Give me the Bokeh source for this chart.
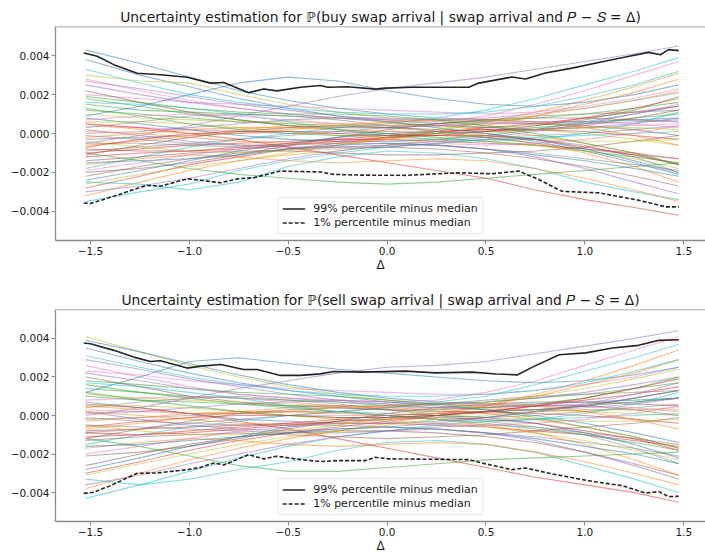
from bokeh.plotting import figure
from bokeh.models import Range1d, FixedTicker, CustomJSTickFormatter, Span
from bokeh.layouts import column
from bokeh.embed import file_html
from bokeh.resources import INLINE

# ---------------- data (values in units of 1e-3) ----------------
SCALE = 1e-3
X_TICKS = [-1.5, -1.0, -0.5, 0.0, 0.5, 1.0, 1.5]
Y_TICKS = [-0.004, -0.002, 0.0, 0.002, 0.004]

TITLE_BUY = "Uncertainty estimation for \u2119(buy swap arrival | swap arrival and \U0001D443 \u2212 \U0001D446 = \u0394)"
TITLE_SELL = "Uncertainty estimation for \u2119(sell swap arrival | swap arrival and \U0001D443 \u2212 \U0001D446 = \u0394)"
LABEL_HI = "99% percentile minus median"
LABEL_LO = "1% percentile minus median"
X_LABEL = "\u0394"

# grid of delta values for the individual bootstrap curves
DELTA = [-1.525, -1.25, -1.0, -0.75, -0.5, -0.25, 0.0, 0.25, 0.5, 0.75, 1.0, 1.25, 1.475]

# --- buy panel ---
BUY_HI_X = [-1.534, -1.466, -1.382, -1.264, -1.146, -1.011, -0.893, -0.826, -0.70, -0.624,
            -0.557, -0.438, -0.337, -0.30, -0.2, -0.06, -0.01, 0.126, 0.413, 0.463,
            0.631, 0.70, 0.80, 0.935, 1.07, 1.205, 1.323, 1.382, 1.424, 1.475]
BUY_HI_V = [4.14, 3.97, 3.54, 3.10, 3.02, 2.89, 2.59, 2.62, 2.10, 2.29,
            2.19, 2.38, 2.47, 2.38, 2.40, 2.28, 2.33, 2.38, 2.38, 2.59,
            2.90, 2.80, 3.11, 3.36, 3.65, 3.93, 4.17, 4.05, 4.31, 4.26]
BUY_LO_X = [-1.534, -1.5, -1.382, -1.281, -1.214, -1.146, -1.011, -0.943, -0.842, -0.758,
            -0.674, -0.54, -0.337, -0.27, -0.135, 0.093, 0.362, 0.53, 0.665, 0.766,
            0.884, 1.07, 1.272, 1.41, 1.475]
BUY_LO_V = [-3.57, -3.60, -3.22, -2.88, -2.67, -2.71, -2.33, -2.40, -2.53, -2.33,
            -2.27, -1.93, -1.98, -2.10, -2.14, -2.15, -2.02, -2.07, -1.93, -2.36,
            -2.97, -3.05, -3.43, -3.77, -3.77]
BUY_CURVES = [
    [3.8, 3.0, 2.4, 1.8, 1.3, 0.9, 0.6, 0.3, 0.0, -0.4, -0.9, -1.5, -2.1],
    [-3.2, -2.5, -1.9, -1.4, -1.0, -0.6, -0.3, 0.1, 0.6, 1.1, 1.7, 2.4, 3.1],
    [1.2, 1.0, 0.8, 0.6, 0.5, 0.4, 0.4, 0.5, 0.6, 0.8, 1.0, 1.3, 1.6],
    [-1.0, -0.8, -0.6, -0.5, -0.4, -0.3, -0.3, -0.4, -0.5, -0.6, -0.8, -1.0, -1.3],
    [2.5, 2.0, 1.6, 1.3, 1.0, 0.8, 0.7, 0.7, 0.8, 1.0, 1.3, 1.7, 2.1],
    [-2.2, -1.7, -1.3, -1.0, -0.8, -0.7, -0.7, -0.8, -1.0, -1.3, -1.7, -2.2, -2.7],
    [0.4, 0.3, 0.2, 0.1, 0.0, 0.0, 0.1, 0.1, 0.2, 0.2, 0.3, 0.4, 0.5],
    [-0.3, -0.2, -0.1, 0.0, 0.1, 0.1, 0.0, -0.1, -0.2, -0.1, 0.0, 0.2, 0.4],
    [3.0, 2.7, 2.6, 2.0, 1.5, 1.1, 0.8, 0.6, 0.4, 0.2, 0.0, -0.3, -0.6],
    [-1.8, -1.2, -0.7, -0.3, 0.0, 0.3, 0.5, 0.8, 1.2, 1.8, 2.5, 3.2, 3.9],
    [0.8, 0.5, 0.2, -0.1, -0.3, -0.4, -0.4, -0.3, -0.1, 0.2, 0.6, 1.0, 1.4],
    [-0.6, -0.4, -0.1, 0.2, 0.4, 0.5, 0.5, 0.4, 0.2, -0.1, -0.5, -1.0, -1.6],
    [1.8, 1.4, 1.0, 0.7, 0.4, 0.2, 0.0, -0.2, -0.4, -0.6, -0.9, -1.2, -1.5],
    [-2.8, -2.2, -1.6, -1.2, -0.8, -0.5, -0.2, 0.0, 0.3, 0.5, 0.8, 1.1, 1.4],
    [0.0, 0.1, 0.3, 0.5, 0.7, 0.8, 0.8, 0.7, 0.6, 0.5, 0.5, 0.6, 0.7],
    [-1.4, -1.2, -1.0, -0.9, -0.9, -1.0, -1.1, -1.1, -1.0, -0.9, -0.7, -0.4, -0.1],
    [2.0, 1.8, 1.6, 1.5, 1.4, 1.3, 1.2, 1.1, 1.0, 1.1, 1.4, 1.8, 2.3],
    [-0.9, -0.7, -0.5, -0.3, -0.1, 0.1, 0.3, 0.5, 0.7, 0.9, 1.0, 1.1, 1.2],
    [0.6, 0.6, 0.5, 0.3, 0.1, -0.1, -0.2, -0.3, -0.4, -0.6, -0.9, -1.3, -1.8],
    [-3.5, -3.0, -2.6, -1.9, -1.4, -1.0, -0.7, -0.5, -0.3, -0.2, -0.1, 0.0, 0.1],
    [4.3, 3.6, 2.9, 2.2, 1.7, 1.3, 1.0, 0.8, 0.7, 0.6, 0.6, 0.7, 0.8],
    [-0.2, 0.0, 0.2, 0.3, 0.3, 0.2, 0.1, 0.0, -0.2, -0.5, -1.0, -1.7, -2.5],
    [1.5, 1.2, 1.1, 1.0, 0.9, 0.8, 0.6, 0.4, 0.3, 0.4, 0.7, 1.2, 1.9],
    [-1.2, -1.0, -0.9, -0.7, -0.5, -0.3, -0.1, 0.1, 0.2, 0.2, 0.1, -0.1, -0.3],
    [0.2, -0.1, -0.4, -0.6, -0.7, -0.7, -0.6, -0.4, -0.2, 0.1, 0.5, 1.0, 1.5],
    [-2.0, -1.8, -1.5, -1.1, -0.6, -0.2, 0.2, 0.5, 0.7, 0.8, 0.8, 0.7, 0.6],
    [2.8, 2.2, 1.7, 1.3, 1.0, 0.8, 0.6, 0.6, 0.9, 1.5, 2.2, 3.0, 3.7],
    [-0.5, -0.5, -0.6, -0.7, -0.8, -0.8, -0.7, -0.5, -0.3, -0.3, -0.6, -1.2, -2.0],
    [1.0, 0.8, 0.7, 0.6, 0.6, 0.5, 0.3, 0.1, -0.1, -0.3, -0.4, -0.4, -0.3],
    [-2.5, -2.6, -2.9, -2.5, -1.7, -1.2, -0.9, -1.0, -1.3, -1.8, -2.5, -3.0, -3.4],
    [0.9, 1.4, 2.0, 2.6, 2.9, 2.7, 2.2, 1.8, 1.5, 1.4, 1.6, 2.0, 2.5],
    [-1.6, -1.3, -1.1, -1.2, -1.4, -1.5, -1.4, -1.3, -1.4, -1.8, -2.3, -2.9, -3.5],
    [-1.0, -1.4, -1.8, -2.1, -2.3, -2.5, -2.6, -2.5, -2.3, -2.1, -1.9, -1.7, -1.5],
    [0.5, 0.3, 0.0, -0.3, -0.7, -1.1, -1.5, -1.9, -2.3, -2.9, -3.4, -3.8, -4.2],
    [-0.5, -0.1, 0.4, 0.9, 1.4, 1.9, 2.3, 2.6, 2.9, 3.3, 3.7, 4.1, 4.5],
    [2.2, 1.6, 1.1, 0.7, 0.4, 0.3, 0.3, 0.4, 0.5, 0.5, 0.4, 0.2, -0.1],
    [-1.9, -1.5, -1.1, -0.8, -0.5, -0.4, -0.4, -0.5, -0.6, -0.5, -0.3, 0.0, 0.4],
    [0.3, 0.6, 0.9, 1.0, 0.9, 0.7, 0.4, 0.1, -0.2, -0.5, -0.8, -1.1, -1.3],
    [-0.4, -0.7, -0.9, -1.0, -0.9, -0.6, -0.2, 0.2, 0.6, 0.9, 1.3, 1.7, 2.2],
    [1.6, 1.5, 1.3, 1.0, 0.6, 0.2, -0.1, -0.3, -0.4, -0.3, 0.0, 0.5, 1.1],
    [-2.4, -1.9, -1.4, -0.9, -0.5, -0.2, 0.0, 0.1, 0.0, -0.3, -0.8, -1.4, -2.0],
    [0.1, 0.0, -0.2, -0.4, -0.5, -0.5, -0.3, 0.0, 0.4, 0.9, 1.5, 2.1, 2.8],
    [1.3, 0.9, 0.5, 0.2, 0.0, -0.1, -0.1, 0.0, 0.1, 0.3, 0.5, 0.8, 1.0],
    [-0.8, -0.9, -0.9, -0.8, -0.6, -0.4, -0.2, -0.1, -0.1, -0.3, -0.7, -1.1, -1.6],
    [2.7, 2.3, 1.9, 1.5, 1.2, 0.9, 0.7, 0.5, 0.3, 0.2, 0.3, 0.5, 0.8],
    [-1.1, -0.6, -0.2, 0.1, 0.3, 0.4, 0.3, 0.2, 0.1, 0.2, 0.4, 0.8, 1.2],
    [0.7, 0.9, 1.0, 0.9, 0.7, 0.5, 0.4, 0.4, 0.5, 0.6, 0.6, 0.5, 0.3],
    [-0.1, -0.3, -0.5, -0.6, -0.6, -0.5, -0.5, -0.6, -0.8, -1.0, -1.3, -1.6, -1.9],
    [-2.6, -2.1, -1.7, -1.4, -1.1, -0.9, -0.6, -0.3, 0.0, 0.2, 0.3, 0.3, 0.2],
    [3.3, 2.6, 2.0, 1.6, 1.3, 1.1, 1.0, 1.0, 1.1, 1.4, 1.9, 2.5, 3.2],
    [-1.5, -1.4, -1.3, -1.1, -0.8, -0.6, -0.5, -0.6, -0.8, -1.1, -1.4, -1.8, -2.2],
    [0.5, 0.2, 0.0, 0.0, 0.2, 0.4, 0.6, 0.7, 0.7, 0.6, 0.3, -0.1, -0.6],
    [1.9, 1.6, 1.3, 1.1, 1.0, 1.0, 0.9, 0.7, 0.4, 0.0, -0.5, -1.0, -1.6],
    [-0.7, -0.3, 0.0, 0.1, 0.1, 0.0, -0.1, -0.1, 0.1, 0.4, 0.8, 1.3, 1.8],
    [-3.0, -2.7, -2.3, -1.8, -1.3, -0.9, -0.6, -0.6, -0.8, -1.2, -1.8, -2.5, -3.1],
]

# --- sell panel ---
SELL_HI_X = [-1.534, -1.5, -1.382, -1.281, -1.197, -1.146, -1.011, -0.943, -0.842, -0.725,
             -0.657, -0.54, -0.438, -0.337, -0.27, -0.135, 0.093, 0.245, 0.43, 0.55,
             0.66, 0.735, 0.87, 1.004, 1.139, 1.272, 1.374, 1.475]
SELL_HI_V = [3.76, 3.72, 3.38, 3.03, 2.80, 2.84, 2.46, 2.56, 2.65, 2.39,
             2.39, 2.08, 2.08, 2.16, 2.28, 2.25, 2.30, 2.21, 2.25, 2.15,
             2.11, 2.51, 3.15, 3.25, 3.50, 3.64, 3.90, 3.93]
SELL_LO_X = [-1.534, -1.483, -1.399, -1.264, -1.163, -1.011, -0.943, -0.876, -0.826, -0.70,
             -0.624, -0.557, -0.438, -0.337, -0.253, -0.11, -0.06, 0.008, 0.413, 0.498,
             0.631, 0.70, 0.834, 0.969, 1.07, 1.188, 1.306, 1.374, 1.424, 1.475]
SELL_LO_V = [-4.04, -3.98, -3.64, -3.00, -2.98, -2.81, -2.69, -2.46, -2.57, -2.03,
             -2.25, -2.11, -2.29, -2.39, -2.34, -2.34, -2.17, -2.25, -2.29, -2.51,
             -2.81, -2.72, -3.03, -3.29, -3.47, -3.64, -4.02, -3.95, -4.21, -4.19]
SELL_CURVES = [
    [3.5, 2.8, 2.2, 1.7, 1.3, 1.0, 0.7, 0.5, 0.3, 0.0, -0.4, -0.9, -1.4],
    [-3.8, -3.0, -2.3, -1.7, -1.2, -0.8, -0.4, 0.0, 0.5, 1.1, 1.8, 2.6, 3.4],
    [1.0, 0.8, 0.7, 0.6, 0.5, 0.5, 0.5, 0.6, 0.7, 0.9, 1.1, 1.4, 1.7],
    [-0.8, -0.7, -0.6, -0.5, -0.4, -0.4, -0.4, -0.5, -0.6, -0.8, -1.0, -1.3, -1.6],
    [2.2, 1.8, 1.4, 1.1, 0.9, 0.7, 0.6, 0.6, 0.7, 0.9, 1.2, 1.6, 2.0],
    [-2.6, -2.0, -1.5, -1.1, -0.9, -0.8, -0.8, -0.9, -1.1, -1.4, -1.9, -2.5, -3.1],
    [0.3, 0.2, 0.1, 0.1, 0.0, 0.0, 0.0, 0.1, 0.1, 0.2, 0.3, 0.3, 0.4],
    [-0.2, -0.1, 0.0, 0.1, 0.2, 0.2, 0.1, 0.0, -0.1, 0.0, 0.2, 0.4, 0.6],
    [4.1, 3.3, 2.6, 2.0, 1.5, 1.1, 0.8, 0.6, 0.4, 0.3, 0.2, 0.1, 0.0],
    [-1.5, -1.0, -0.6, -0.3, 0.0, 0.2, 0.4, 0.7, 1.0, 1.6, 2.3, 3.0, 3.7],
    [0.7, 0.4, 0.1, -0.2, -0.3, -0.4, -0.4, -0.3, -0.1, 0.2, 0.5, 0.9, 1.3],
    [-0.7, -0.4, -0.1, 0.2, 0.4, 0.5, 0.4, 0.3, 0.1, -0.2, -0.6, -1.1, -1.7],
    [1.6, 1.2, 0.9, 0.6, 0.4, 0.2, 0.0, -0.2, -0.4, -0.7, -1.0, -1.4, -1.8],
    [-3.0, -2.4, -1.8, -1.3, -0.9, -0.6, -0.3, 0.0, 0.2, 0.5, 0.8, 1.1, 1.5],
    [0.1, 0.2, 0.4, 0.6, 0.7, 0.8, 0.7, 0.6, 0.5, 0.5, 0.6, 0.7, 0.9],
    [-1.3, -1.1, -1.0, -0.9, -1.0, -1.1, -1.2, -1.1, -1.0, -0.8, -0.6, -0.4, -0.1],
    [2.3, 2.1, 1.8, 1.6, 1.4, 1.3, 1.2, 1.1, 1.1, 1.3, 1.6, 2.0, 2.5],
    [-0.9, -0.7, -0.4, -0.2, 0.0, 0.2, 0.4, 0.6, 0.8, 1.0, 1.1, 1.2, 1.3],
    [0.5, 0.5, 0.4, 0.2, 0.0, -0.2, -0.3, -0.4, -0.6, -0.9, -1.3, -1.8, -2.3],
    [-4.3, -3.6, -2.9, -2.2, -1.6, -1.1, -0.8, -0.5, -0.3, -0.2, -0.1, 0.0, 0.1],
    [3.9, 3.3, 2.7, 2.1, 1.6, 1.2, 0.9, 0.7, 0.6, 0.6, 0.7, 0.8, 0.9],
    [-0.3, -0.1, 0.1, 0.2, 0.2, 0.1, 0.0, -0.2, -0.5, -0.9, -1.5, -2.3, -3.1],
    [1.4, 1.2, 1.0, 0.9, 0.8, 0.7, 0.5, 0.4, 0.4, 0.6, 0.9, 1.4, 2.0],
    [-1.1, -1.0, -0.8, -0.6, -0.4, -0.2, 0.0, 0.1, 0.2, 0.1, 0.0, -0.2, -0.4],
    [0.2, -0.2, -0.5, -0.7, -0.8, -0.7, -0.6, -0.4, -0.1, 0.2, 0.6, 1.1, 1.7],
    [-2.1, -1.9, -1.6, -1.2, -0.7, -0.3, 0.1, 0.4, 0.6, 0.7, 0.7, 0.6, 0.5],
    [2.6, 2.0, 1.5, 1.1, 0.9, 0.8, 0.7, 0.8, 1.2, 1.8, 2.6, 3.4, 4.1],
    [-0.5, -0.6, -0.7, -0.8, -0.9, -0.9, -0.8, -0.6, -0.5, -0.6, -1.0, -1.7, -2.5],
    [1.1, 0.9, 0.8, 0.7, 0.6, 0.5, 0.3, 0.1, -0.1, -0.2, -0.3, -0.3, -0.2],
    [-3.3, -3.6, -3.3, -2.8, -2.4, -1.8, -1.4, -1.3, -1.5, -1.9, -2.6, -3.3, -4.0],
    [1.2, 2.0, 2.8, 3.0, 2.7, 2.4, 2.2, 2.0, 1.8, 1.7, 1.8, 2.1, 2.5],
    [-1.7, -1.4, -1.2, -1.3, -1.5, -1.6, -1.5, -1.4, -1.5, -1.9, -2.4, -3.0, -3.6],
    [-1.2, -1.6, -2.1, -2.6, -2.9, -2.9, -2.7, -2.5, -2.3, -2.2, -2.1, -2.0, -1.9],
    [0.6, 0.4, 0.1, -0.3, -0.7, -1.2, -1.7, -2.2, -2.7, -3.2, -3.6, -4.0, -4.5],
    [0.0, 0.4, 0.9, 1.4, 1.8, 2.2, 2.5, 2.6, 2.8, 3.2, 3.6, 4.0, 4.4],
    [2.0, 1.5, 1.0, 0.7, 0.5, 0.4, 0.3, 0.3, 0.4, 0.5, 0.5, 0.3, 0.0],
    [-2.0, -1.6, -1.2, -0.8, -0.6, -0.4, -0.4, -0.4, -0.5, -0.4, -0.2, 0.1, 0.5],
    [0.4, 0.7, 0.9, 1.0, 0.8, 0.6, 0.3, 0.0, -0.3, -0.6, -0.9, -1.2, -1.5],
    [-0.5, -0.8, -1.0, -1.0, -0.8, -0.5, -0.1, 0.3, 0.7, 1.0, 1.4, 1.9, 2.4],
    [1.7, 1.5, 1.2, 0.9, 0.5, 0.2, 0.0, -0.2, -0.3, -0.2, 0.1, 0.6, 1.2],
    [-2.8, -2.2, -1.6, -1.1, -0.6, -0.3, -0.1, 0.0, -0.1, -0.4, -0.9, -1.5, -2.2],
    [0.2, 0.0, -0.2, -0.4, -0.5, -0.4, -0.2, 0.1, 0.5, 1.0, 1.6, 2.2, 2.9],
    [1.2, 0.8, 0.5, 0.2, 0.0, -0.1, -0.1, 0.0, 0.2, 0.3, 0.5, 0.7, 0.9],
    [-0.9, -1.0, -0.9, -0.7, -0.5, -0.3, -0.2, -0.1, -0.2, -0.4, -0.8, -1.2, -1.8],
    [2.9, 2.4, 1.9, 1.5, 1.1, 0.8, 0.6, 0.4, 0.3, 0.3, 0.4, 0.6, 0.9],
    [-1.2, -0.7, -0.3, 0.1, 0.3, 0.4, 0.3, 0.2, 0.2, 0.3, 0.5, 0.9, 1.3],
    [0.8, 0.9, 1.0, 0.9, 0.7, 0.5, 0.4, 0.4, 0.5, 0.5, 0.5, 0.4, 0.2],
    [-0.1, -0.3, -0.4, -0.5, -0.5, -0.5, -0.6, -0.7, -0.9, -1.1, -1.4, -1.7, -2.1],
    [-3.1, -2.5, -2.0, -1.5, -1.1, -0.8, -0.5, -0.2, 0.0, 0.2, 0.3, 0.3, 0.3],
    [3.1, 2.5, 2.0, 1.6, 1.3, 1.1, 1.0, 1.0, 1.1, 1.3, 1.7, 2.3, 2.9],
    [-1.6, -1.5, -1.3, -1.1, -0.9, -0.7, -0.6, -0.7, -0.9, -1.2, -1.6, -2.0, -2.5],
    [0.5, 0.3, 0.1, 0.1, 0.2, 0.4, 0.5, 0.6, 0.6, 0.5, 0.2, -0.2, -0.7],
    [1.8, 1.6, 1.4, 1.2, 1.1, 1.0, 0.8, 0.6, 0.3, -0.1, -0.6, -1.1, -1.7],
    [-0.6, -0.3, -0.1, 0.0, 0.0, -0.1, -0.1, 0.0, 0.2, 0.5, 0.9, 1.4, 1.9],
    [-3.6, -3.1, -2.5, -2.0, -1.5, -1.1, -0.8, -0.7, -0.9, -1.3, -1.9, -2.6, -3.3],
]

TAB10 = ["#1f77b4", "#ff7f0e", "#2ca02c", "#d62728", "#9467bd",
         "#8c564b", "#e377c2", "#7f7f7f", "#bcbd22", "#17becf"]

FONT = "DejaVu Sans"
SPINE = "#8a8a8a"
TEXT = "#1a1a1a"


def make_panel(title, curves, hi_x, hi_v, lo_x, lo_v, height, top_margin):
    p = figure(width=705, height=height, output_backend="svg", toolbar_location=None,
               x_range=Range1d(-1.677, 1.610), y_range=Range1d(-0.0055, 0.0055),
               min_border_left=55, min_border_right=0, min_border_top=0,
               min_border_bottom=0, margin=(top_margin, 0, 0, 0))
    p.title.text = title
    p.title.align = "center"
    p.title.text_font = FONT
    p.title.text_font_size = "13.8px"
    p.title.text_font_style = "normal"
    p.title.text_color = TEXT
    p.title.standoff = 4
    p.grid.visible = False
    p.outline_line_color = None
    p.background_fill_color = "white"
    p.border_fill_color = "white"

    xs = [DELTA for _ in curves]
    ys = [[v * SCALE for v in c] for c in curves]
    cols = [TAB10[i % 10] for i in range(len(curves))]
    p.multi_line(xs=xs, ys=ys, line_color=cols, line_alpha=0.5, line_width=1.1)

    p.line(hi_x, [v * SCALE for v in hi_v], line_color="#262626", line_width=1.6,
           legend_label=LABEL_HI)
    p.line(lo_x, [v * SCALE for v in lo_v], line_color="#262626", line_width=1.6,
           line_dash="4 2", legend_label=LABEL_LO)

    p.add_layout(Span(location=0.0055, dimension="width", line_color=SPINE, line_width=1.3))

    p.xaxis.ticker = FixedTicker(ticks=X_TICKS, minor_ticks=[])
    p.yaxis.ticker = FixedTicker(ticks=Y_TICKS, minor_ticks=[])
    p.xaxis.formatter = CustomJSTickFormatter(
        code="return (tick < 0 ? '\u2212' : '') + Math.abs(tick).toFixed(1);")
    p.yaxis.formatter = CustomJSTickFormatter(
        code="return (tick < 0 ? '\u2212' : '') + Math.abs(tick).toFixed(3);")
    for ax in (p.xaxis[0], p.yaxis[0]):
        ax.axis_line_color = SPINE
        ax.axis_line_width = 1.3
        ax.major_tick_line_color = SPINE
        ax.major_tick_out = 4
        ax.major_tick_in = 0
        ax.major_label_text_font = FONT
        ax.major_label_text_font_size = "10.5px"
        ax.major_label_text_color = TEXT
        ax.major_label_standoff = 2
    p.xaxis.axis_label = X_LABEL
    p.xaxis.axis_label_text_font = FONT
    p.xaxis.axis_label_text_font_size = "12px"
    p.xaxis.axis_label_text_font_style = "normal"
    p.xaxis.axis_label_text_color = TEXT
    p.xaxis.axis_label_standoff = 0

    lg = p.legend[0]
    lg.location = "bottom_center"
    lg.margin = 6
    lg.padding = 4
    lg.spacing = 1
    lg.glyph_width = 23
    lg.glyph_height = 13
    lg.label_height = 13
    lg.label_standoff = 8
    lg.label_text_font = FONT
    lg.label_text_font_size = "11px"
    lg.label_text_color = TEXT
    lg.border_line_color = "#d5d5d5"
    lg.border_line_width = 1
    lg.background_fill_alpha = 0.85
    return p


p1 = make_panel(TITLE_BUY, BUY_CURVES, BUY_HI_X, BUY_HI_V, BUY_LO_X, BUY_LO_V, 270, 4)
p2 = make_panel(TITLE_SELL, SELL_CURVES, SELL_HI_X, SELL_HI_V, SELL_LO_X, SELL_LO_V, 268, 13)
p = column(p1, p2, spacing=0)

open("out.html", "w").write(file_html(p, INLINE))
